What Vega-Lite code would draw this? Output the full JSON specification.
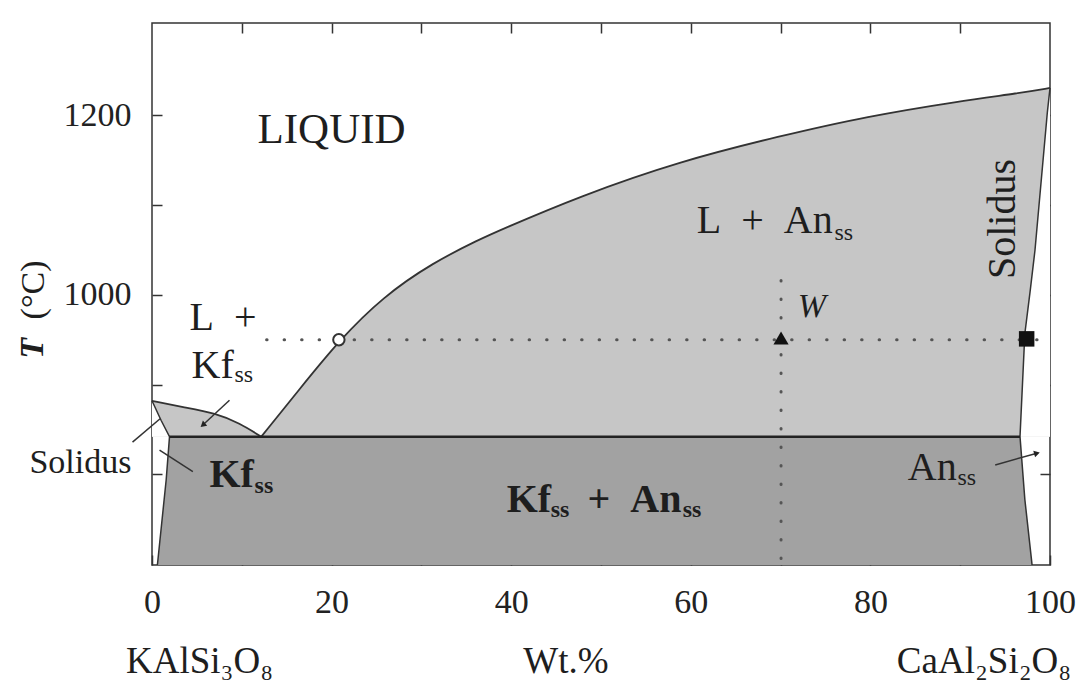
{
  "$schema": "https://vega.github.io/schema/vega-lite/v6.json",
  "width": 898,
  "height": 542,
  "autosize": {"type": "none"},
  "padding": {"left": 152, "top": 23, "right": 38, "bottom": 130},
  "background": "white",
  "config": {
    "view": {"stroke": "#333", "strokeWidth": 1.5},
    "axis": {"labelFont": "Liberation Serif", "labelFontSize": 34, "labelColor": "#222", "tickColor": "#333", "tickWidth": 1.5, "domain": false, "grid": false, "tickSize": -10, "labelOverlap": false, "labelFlush": false, "zindex": 1},
    "text": {"font": "Liberation Serif", "color": "#1e1e1e"}
  },
  "datasets": {
    "regA": [
      {"wt": 12.17, "top": 842, "bot": 842},
      {"wt": 16.43, "top": 895, "bot": 842},
      {"wt": 20.81, "top": 949, "bot": 842},
      {"wt": 25.72, "top": 998, "bot": 842},
      {"wt": 31.29, "top": 1036, "bot": 842},
      {"wt": 36.49, "top": 1062, "bot": 842},
      {"wt": 38.72, "top": 1072, "bot": 842},
      {"wt": 47.63, "top": 1110, "bot": 842},
      {"wt": 58.77, "top": 1149, "bot": 842},
      {"wt": 69.92, "top": 1177, "bot": 842},
      {"wt": 79.61, "top": 1199, "bot": 842},
      {"wt": 89.97, "top": 1216, "bot": 842},
      {"wt": 96.66, "top": 1225, "bot": 842},
      {"wt": 100, "top": 1230.6, "bot": 842}
    ],
    "whiteAn": [
      {"wt": 96.66, "top": 842, "bot": 842},
      {"wt": 97.2, "top": 957, "bot": 842},
      {"wt": 97.8, "top": 1005, "bot": 842},
      {"wt": 98.33, "top": 1050, "bot": 842},
      {"wt": 99.7, "top": 1203, "bot": 842},
      {"wt": 100, "top": 1230.6, "bot": 842}
    ],
    "regB": [
      {"wt": 0, "top": 882, "bot": 842},
      {"wt": 3.43, "top": 875, "bot": 842},
      {"wt": 7.15, "top": 868, "bot": 842},
      {"wt": 9.75, "top": 857, "bot": 842},
      {"wt": 12.17, "top": 842, "bot": 842}
    ],
    "whiteKf": [
      {"wt": 0, "top": 882, "bot": 842},
      {"wt": 1.02, "top": 860, "bot": 842},
      {"wt": 1.95, "top": 842, "bot": 842}
    ],
    "regC": [
      {"wt": 0.6, "top": 699, "bot": 699},
      {"wt": 1.58, "top": 794, "bot": 699},
      {"wt": 1.95, "top": 842, "bot": 699},
      {"wt": 96.66, "top": 842, "bot": 699},
      {"wt": 97.2, "top": 772, "bot": 699},
      {"wt": 97.96, "top": 703, "bot": 699},
      {"wt": 98.0, "top": 699, "bot": 699}
    ],
    "linear": [
      {"seg": "sol_kf", "i": 1, "wt": 0, "T": 882},
      {"seg": "sol_kf", "i": 2, "wt": 1.02, "T": 860},
      {"seg": "sol_kf", "i": 3, "wt": 1.95, "T": 842},
      {"seg": "sol_kf", "i": 4, "wt": 1.58, "T": 794},
      {"seg": "sol_kf", "i": 5, "wt": 0.6, "T": 699},
      {"seg": "sol_an", "i": 1, "wt": 100, "T": 1230.6},
      {"seg": "sol_an", "i": 2, "wt": 99.7, "T": 1203},
      {"seg": "sol_an", "i": 3, "wt": 98.33, "T": 1050},
      {"seg": "sol_an", "i": 4, "wt": 97.8, "T": 1005},
      {"seg": "sol_an", "i": 5, "wt": 97.2, "T": 957},
      {"seg": "sol_an", "i": 6, "wt": 96.66, "T": 842},
      {"seg": "sol_an", "i": 7, "wt": 97.2, "T": 772},
      {"seg": "sol_an", "i": 8, "wt": 97.96, "T": 703},
      {"seg": "sol_an", "i": 9, "wt": 98.0, "T": 699},
      {"seg": "lead1", "i": 1, "wt": 8.63, "T": 882.6},
      {"seg": "lead1", "i": 2, "wt": 5.66, "T": 855},
      {"seg": "lead2", "i": 1, "wt": -2.17, "T": 836},
      {"seg": "lead2", "i": 2, "wt": 0.9, "T": 862},
      {"seg": "lead3", "i": 1, "wt": 0.84, "T": 827},
      {"seg": "lead3", "i": 2, "wt": 4.55, "T": 803},
      {"seg": "lead4", "i": 1, "wt": 93.9, "T": 810.5},
      {"seg": "lead4", "i": 2, "wt": 98.55, "T": 823.6}
    ]
  },
  "resolve": {"axis": {"x": "independent", "y": "independent"}},
  "layer": [
    {
      "layer": [
        {
          "data": {"name": "regC"},
          "mark": {"type": "area", "color": "#a2a2a2", "interpolate": "linear"},
          "encoding": {
            "x": {"field": "wt", "type": "quantitative", "scale": {"domain": [0, 100], "nice": false, "zero": false}, "axis": null},
            "y": {"field": "top", "type": "quantitative", "scale": {"domain": [699, 1303], "nice": false, "zero": false}, "axis": null},
            "y2": {"field": "bot"}
          }
        },
        {
          "data": {"name": "regA"},
          "mark": {"type": "area", "color": "#c6c6c6", "interpolate": "basis"},
          "encoding": {
            "x": {"field": "wt", "type": "quantitative", "axis": null},
            "y": {"field": "top", "type": "quantitative", "axis": null},
            "y2": {"field": "bot"}
          }
        },
        {
          "data": {"name": "whiteAn"},
          "mark": {"type": "area", "color": "white", "interpolate": "linear"},
          "encoding": {
            "x": {"field": "wt", "type": "quantitative", "axis": null},
            "y": {"field": "top", "type": "quantitative", "axis": null},
            "y2": {"field": "bot"}
          }
        },
        {
          "data": {"name": "regB"},
          "mark": {"type": "area", "color": "#c6c6c6", "interpolate": "basis"},
          "encoding": {
            "x": {"field": "wt", "type": "quantitative", "axis": null},
            "y": {"field": "top", "type": "quantitative", "axis": null},
            "y2": {"field": "bot"}
          }
        },
        {
          "data": {"name": "whiteKf"},
          "mark": {"type": "area", "color": "white", "interpolate": "linear"},
          "encoding": {
            "x": {"field": "wt", "type": "quantitative", "axis": null},
            "y": {"field": "top", "type": "quantitative", "axis": null},
            "y2": {"field": "bot"}
          }
        },
        {
          "data": {"name": "regA"},
          "mark": {"type": "line", "color": "#333", "strokeWidth": 1.8, "interpolate": "basis"},
          "encoding": {
            "x": {"field": "wt", "type": "quantitative", "axis": null},
            "y": {"field": "top", "type": "quantitative", "axis": null}
          }
        },
        {
          "data": {"name": "regB"},
          "mark": {"type": "line", "color": "#333", "strokeWidth": 1.8, "interpolate": "basis"},
          "encoding": {
            "x": {"field": "wt", "type": "quantitative", "axis": null},
            "y": {"field": "top", "type": "quantitative", "axis": null}
          }
        },
        {
          "data": {"name": "linear"},
          "mark": {"type": "line", "color": "#333", "strokeWidth": 1.5},
          "encoding": {
            "x": {"field": "wt", "type": "quantitative", "axis": null},
            "y": {"field": "T", "type": "quantitative", "axis": null},
            "detail": {"field": "seg"},
            "order": {"field": "i"}
          }
        },
        {
          "data": {"values": [{"wt": 1.95, "wt2": 96.66, "T": 842}]},
          "mark": {"type": "rule", "color": "#222", "strokeWidth": 2.6},
          "encoding": {
            "x": {"field": "wt", "type": "quantitative", "axis": null},
            "x2": {"field": "wt2"},
            "y": {"field": "T", "type": "quantitative", "axis": null}
          }
        },
        {
          "data": {"values": [{"wt": 12.76, "wt2": 99.6, "T": 950}]},
          "mark": {"type": "rule", "color": "#555", "strokeWidth": 3, "strokeDash": [0.5, 17], "strokeCap": "round"},
          "encoding": {
            "x": {"field": "wt", "type": "quantitative", "axis": null},
            "x2": {"field": "wt2"},
            "y": {"field": "T", "type": "quantitative", "axis": null}
          }
        },
        {
          "data": {"values": [{"wt": 70.05, "T": 1016, "T2": 699}]},
          "mark": {"type": "rule", "color": "#555", "strokeWidth": 3, "strokeDash": [0.5, 18], "strokeCap": "round"},
          "encoding": {
            "x": {"field": "wt", "type": "quantitative", "axis": null},
            "y": {"field": "T", "type": "quantitative", "axis": null},
            "y2": {"field": "T2"}
          }
        },
        {
          "data": {"values": [{"wt": 20.81, "T": 950}]},
          "mark": {"type": "point", "shape": "circle", "size": 130, "filled": true, "fill": "white", "stroke": "#333", "strokeWidth": 2, "opacity": 1},
          "encoding": {
            "x": {"field": "wt", "type": "quantitative", "axis": null},
            "y": {"field": "T", "type": "quantitative", "axis": null}
          }
        },
        {
          "data": {"values": [{"wt": 70.05, "T": 952}]},
          "mark": {"type": "point", "shape": "triangle-up", "size": 230, "filled": true, "color": "#111", "opacity": 1},
          "encoding": {
            "x": {"field": "wt", "type": "quantitative", "axis": null},
            "y": {"field": "T", "type": "quantitative", "axis": null}
          }
        },
        {
          "data": {"values": [{"wt": 97.4, "T": 951}]},
          "mark": {"type": "point", "shape": "square", "size": 240, "filled": true, "color": "#111", "opacity": 1},
          "encoding": {
            "x": {"field": "wt", "type": "quantitative", "axis": null},
            "y": {"field": "T", "type": "quantitative", "axis": null}
          }
        },
        {
          "data": {"values": [{"wt": 5.66, "T": 855}]},
          "mark": {"type": "point", "shape": "triangle-up", "size": 45, "filled": true, "color": "#222", "angle": 230, "opacity": 1},
          "encoding": {
            "x": {"field": "wt", "type": "quantitative", "axis": null},
            "y": {"field": "T", "type": "quantitative", "axis": null}
          }
        },
        {
          "data": {"values": [{"wt": 98.55, "T": 823.6}]},
          "mark": {"type": "point", "shape": "triangle-up", "size": 45, "filled": true, "color": "#222", "angle": 74, "opacity": 1},
          "encoding": {
            "x": {"field": "wt", "type": "quantitative", "axis": null},
            "y": {"field": "T", "type": "quantitative", "axis": null}
          }
        },
        {
          "data": {"values": [{"wt": 11.75, "T": 1169, "label": "LIQUID"}]},
          "mark": {"type": "text", "fontSize": 43, "align": "left", "baseline": "alphabetic"},
          "encoding": {
            "x": {"field": "wt", "type": "quantitative", "axis": null},
            "y": {"field": "T", "type": "quantitative", "axis": null},
            "text": {"field": "label"}
          }
        },
        {
          "data": {"values": [
            {"wt": 60.67, "T": 1069, "label": "L\u2002+\u2002An"},
            {"wt": 4.18, "T": 961, "label": "L\u2002+"},
            {"wt": 4.4, "T": 907, "label": "Kf"},
            {"wt": 84.17, "T": 794, "label": "An"}
          ]},
          "mark": {"type": "text", "fontSize": 40, "align": "left", "baseline": "alphabetic"},
          "encoding": {
            "x": {"field": "wt", "type": "quantitative", "axis": null},
            "y": {"field": "T", "type": "quantitative", "axis": null},
            "text": {"field": "label"}
          }
        },
        {
          "data": {"values": [
            {"wt": 76.0, "T": 1061, "label": "ss"},
            {"wt": 9.19, "T": 903, "label": "ss"},
            {"wt": 89.7, "T": 788, "label": "ss"}
          ]},
          "mark": {"type": "text", "fontSize": 24, "align": "left", "baseline": "alphabetic"},
          "encoding": {
            "x": {"field": "wt", "type": "quantitative", "axis": null},
            "y": {"field": "T", "type": "quantitative", "axis": null},
            "text": {"field": "label"}
          }
        },
        {
          "data": {"values": [
            {"wt": 6.4, "T": 786, "label": "Kf"},
            {"wt": 39.5, "T": 758, "label": "Kf"},
            {"wt": 48.5, "T": 758, "label": "+\u2002An"}
          ]},
          "mark": {"type": "text", "fontSize": 40, "fontWeight": "bold", "align": "left", "baseline": "alphabetic"},
          "encoding": {
            "x": {"field": "wt", "type": "quantitative", "axis": null},
            "y": {"field": "T", "type": "quantitative", "axis": null},
            "text": {"field": "label"}
          }
        },
        {
          "data": {"values": [
            {"wt": 11.42, "T": 779, "label": "ss"},
            {"wt": 44.4, "T": 752.5, "label": "ss"},
            {"wt": 59.1, "T": 752.5, "label": "ss"}
          ]},
          "mark": {"type": "text", "fontSize": 24, "fontWeight": "bold", "align": "left", "baseline": "alphabetic"},
          "encoding": {
            "x": {"field": "wt", "type": "quantitative", "axis": null},
            "y": {"field": "T", "type": "quantitative", "axis": null},
            "text": {"field": "label"}
          }
        },
        {
          "data": {"values": [{"wt": 71.9, "T": 975, "label": "W"}]},
          "mark": {"type": "text", "fontSize": 34, "fontStyle": "italic", "align": "left", "baseline": "alphabetic"},
          "encoding": {
            "x": {"field": "wt", "type": "quantitative", "axis": null},
            "y": {"field": "T", "type": "quantitative", "axis": null},
            "text": {"field": "label"}
          }
        },
        {
          "data": {"values": [{"wt": 94.76, "T": 1084.6, "label": "Solidus"}]},
          "mark": {"type": "text", "fontSize": 40, "angle": 270, "align": "center", "baseline": "middle"},
          "encoding": {
            "x": {"field": "wt", "type": "quantitative", "axis": null},
            "y": {"field": "T", "type": "quantitative", "axis": null},
            "text": {"field": "label"}
          }
        },
        {
          "data": {"values": [{"wt": -7.97, "T": 801.6, "label": "Solidus"}]},
          "mark": {"type": "text", "fontSize": 34, "align": "center", "baseline": "alphabetic"},
          "encoding": {
            "x": {"field": "wt", "type": "quantitative", "axis": null},
            "y": {"field": "T", "type": "quantitative", "axis": null},
            "text": {"field": "label"}
          }
        },
        {
          "data": {"values": [
            {"wt": 5.3, "T": 578.7, "label": "KAlSi₃O₈"},
            {"wt": 46.1, "T": 578.7, "label": "Wt.%"},
            {"wt": 92.65, "T": 578.7, "label": "CaAl₂Si₂O₈"}
          ]},
          "mark": {"type": "text", "fontSize": 37, "align": "center", "baseline": "alphabetic"},
          "encoding": {
            "x": {"field": "wt", "type": "quantitative", "axis": null},
            "y": {"field": "T", "type": "quantitative", "axis": null},
            "text": {"field": "label"}
          }
        },
        {
          "data": {"values": [{"wt": -13.09, "T": 1005.5, "label": "(°C)"}]},
          "mark": {"type": "text", "fontSize": 34, "angle": 270, "align": "center", "baseline": "middle"},
          "encoding": {
            "x": {"field": "wt", "type": "quantitative", "axis": null},
            "y": {"field": "T", "type": "quantitative", "axis": null},
            "text": {"field": "label"}
          }
        },
        {
          "data": {"values": [{"wt": -13.3, "T": 940.3, "label": "T"}]},
          "mark": {"type": "text", "fontSize": 34, "fontWeight": "bold", "fontStyle": "italic", "angle": 270, "align": "center", "baseline": "middle"},
          "encoding": {
            "x": {"field": "wt", "type": "quantitative", "axis": null},
            "y": {"field": "T", "type": "quantitative", "axis": null},
            "text": {"field": "label"}
          }
        }
      ]
    },
    {
      "data": {"values": [{"wt": 50, "T": 1000}]},
      "mark": {"type": "point", "opacity": 0},
      "encoding": {
        "x": {"field": "wt", "type": "quantitative", "scale": {"domain": [0, 100], "nice": false, "zero": false},
          "axis": {"orient": "bottom", "title": null, "values": [0, 10, 20, 30, 40, 50, 60, 70, 80, 90, 100], "labelExpr": "datum.value % 20 === 0 ? datum.label : ''", "labelPadding": 30}},
        "y": {"field": "T", "type": "quantitative", "scale": {"domain": [699, 1303], "nice": false, "zero": false},
          "axis": {"orient": "left", "title": null, "values": [800, 900, 1000, 1100, 1200], "format": "d", "labelExpr": "datum.value == 1000 || datum.value == 1200 ? datum.label : ''", "labelPadding": 31}}
      }
    },
    {
      "data": {"values": [{"wt": 50, "T": 1000}]},
      "mark": {"type": "point", "opacity": 0},
      "encoding": {
        "x": {"field": "wt", "type": "quantitative", "scale": {"domain": [0, 100], "nice": false, "zero": false},
          "axis": {"orient": "top", "title": null, "values": [10, 20, 30, 40, 50, 60, 70, 80, 90], "labels": false}},
        "y": {"field": "T", "type": "quantitative", "scale": {"domain": [699, 1303], "nice": false, "zero": false},
          "axis": {"orient": "right", "title": null, "values": [800, 900, 1000, 1100, 1200], "labels": false}}
      }
    }
  ]
}
